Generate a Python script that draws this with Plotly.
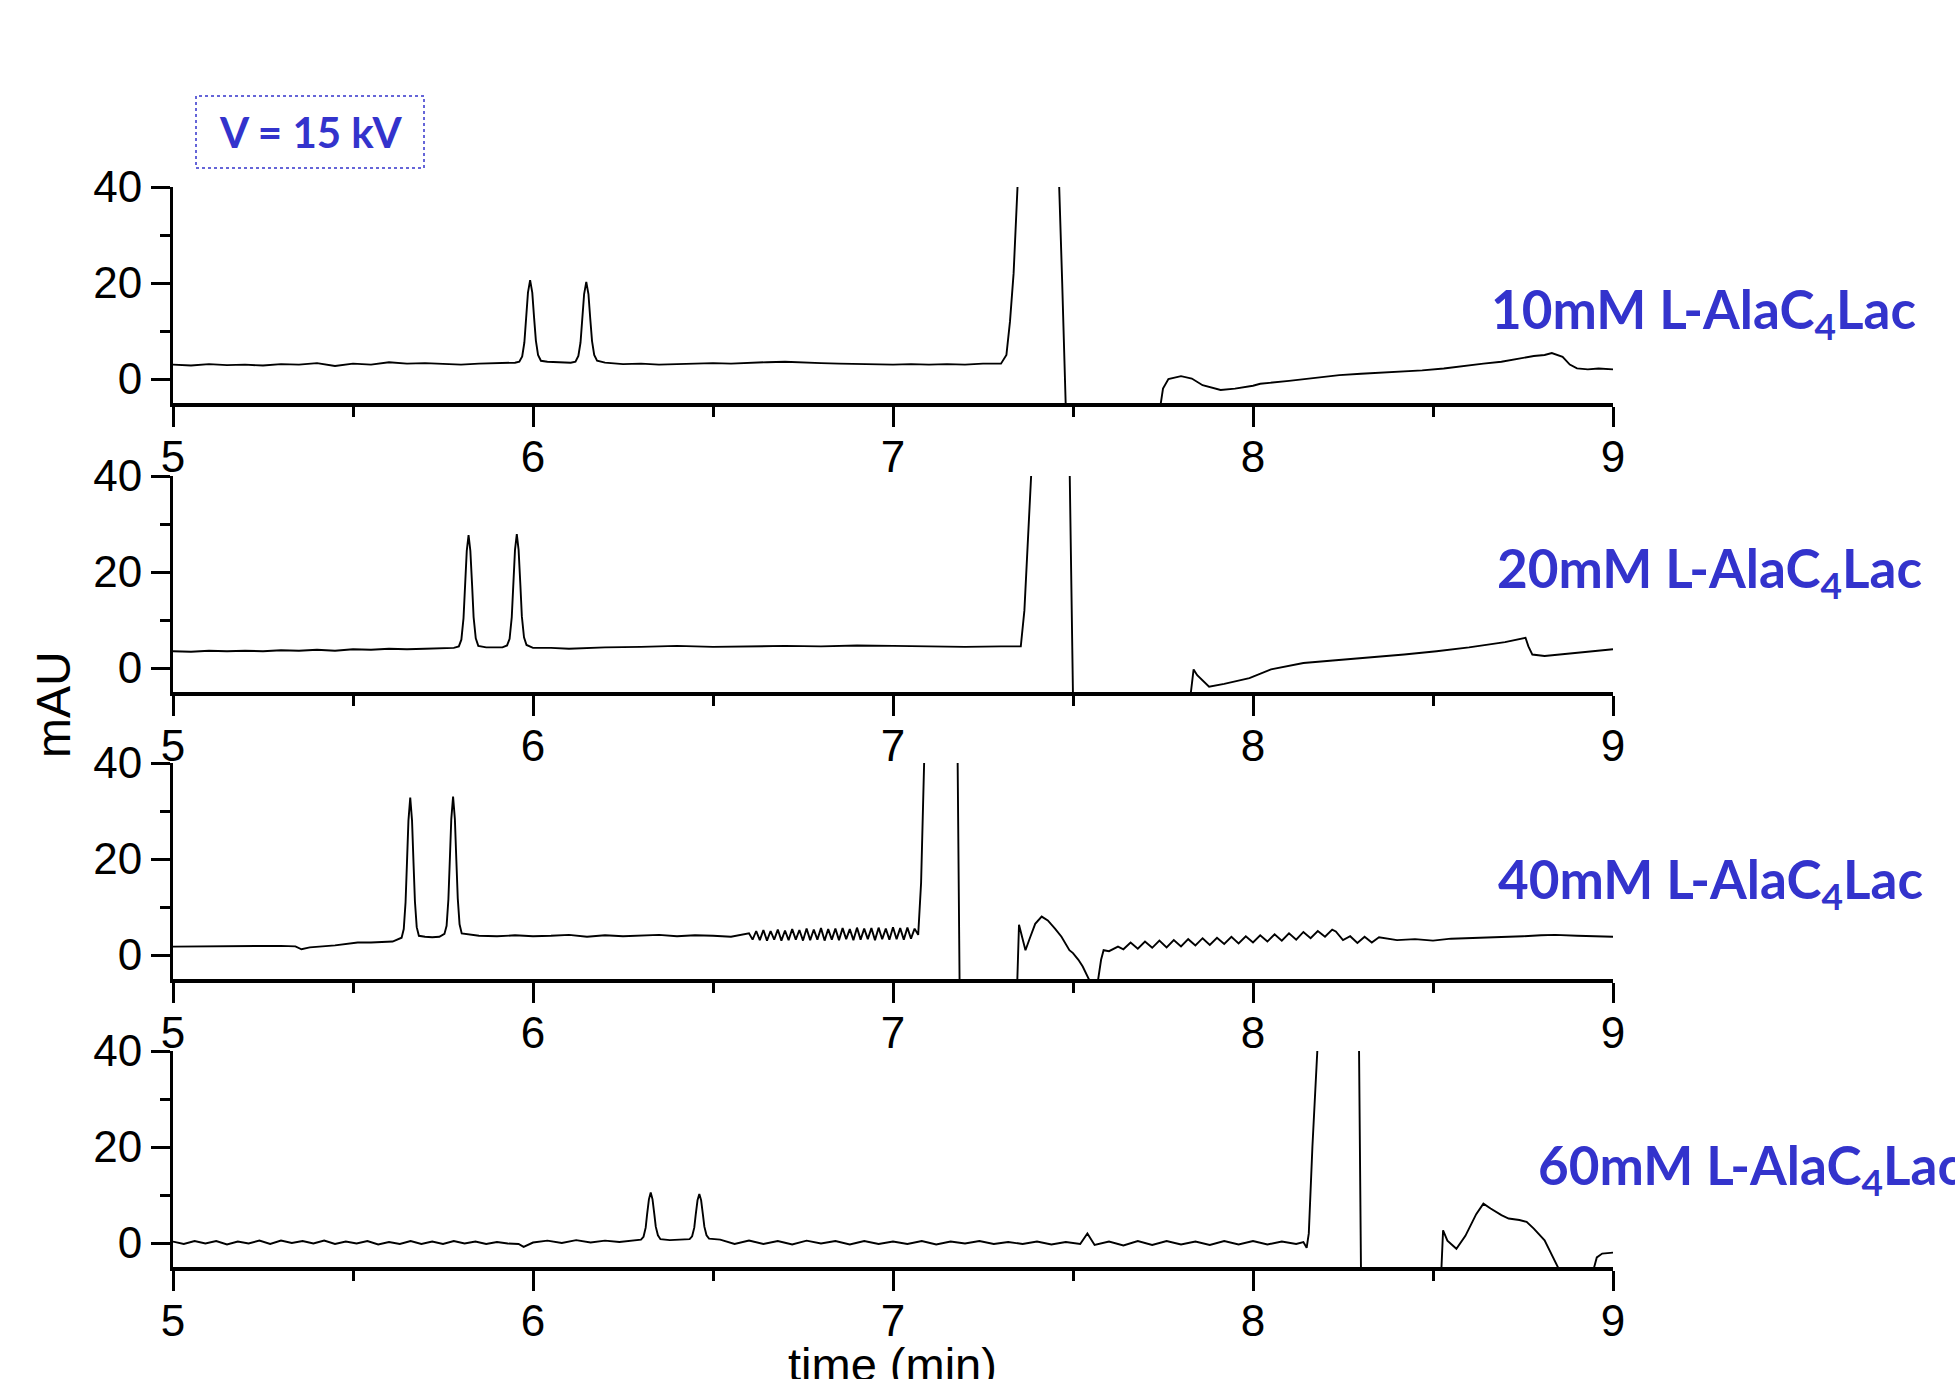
import plotly.graph_objects as go

# ---------------- data (time in min, absorbance in mAU) ----------------
labels = ["10mM L-AlaC<sub>4</sub>Lac", "20mM L-AlaC<sub>4</sub>Lac",
          "40mM L-AlaC<sub>4</sub>Lac", "60mM L-AlaC<sub>4</sub>Lac"]
x_ticks = [5, 6, 7, 8, 9]
y_ticks = [0, 20, 40]

t_10mM = [5.00, 5.05, 5.10, 5.15, 5.20, 5.25, 5.30, 5.35, 5.40, 5.45, 5.50, 5.55, 5.60, 5.65,
          5.70, 5.75, 5.80, 5.85, 5.90, 5.95,
          5.962, 5.970, 5.976, 5.981, 5.986, 5.992, 5.998, 6.003, 6.008, 6.014, 6.022,
          6.04, 6.08, 6.105,
          6.118, 6.126, 6.132, 6.137, 6.142, 6.148, 6.154, 6.159, 6.164, 6.170, 6.178,
          6.20, 6.25, 6.30, 6.35, 6.40, 6.45, 6.50, 6.55, 6.60, 6.65, 6.70, 6.75, 6.80, 6.85,
          6.90, 6.95, 7.00, 7.05, 7.10, 7.15, 7.20, 7.25, 7.30, 7.315, 7.325, 7.335, 7.345,
          7.355, 7.37, 7.44, 7.46, 7.47, 7.48, 7.50, 7.73, 7.742, 7.75, 7.765, 7.80, 7.83,
          7.86, 7.91, 7.95, 8.00, 8.02, 8.10, 8.17, 8.24, 8.30, 8.36, 8.42, 8.47, 8.53, 8.59,
          8.64, 8.69, 8.74, 8.78, 8.81, 8.83, 8.86, 8.88, 8.90, 8.93, 8.96, 9.00]
mau_10mM = [3.0, 2.8, 3.1, 2.9, 3.0, 2.8, 3.1, 3.0, 3.3, 2.7, 3.2, 3.0, 3.5, 3.2,
            3.3, 3.1, 3.0, 3.2, 3.3, 3.4,
            3.6, 4.7, 7.6, 12.8, 18.0, 20.6, 18.0, 12.8, 8.0, 5.0, 3.8,
            3.6, 3.5, 3.4,
            3.6, 4.8, 7.6, 12.6, 17.7, 20.2, 17.7, 12.6, 7.9, 5.0, 3.8,
            3.4, 3.1, 3.2, 3.0, 3.1, 3.2, 3.3, 3.2, 3.4, 3.5, 3.6, 3.4, 3.3, 3.2,
            3.1, 3.0, 3.0, 3.1, 3.0, 3.1, 3.0, 3.2, 3.2, 5.0, 12.0, 22.0, 33.0,
            44.0, 80.0, 80.0, 44.0, 20.0, -6.0, -20.0, -20.0, -6.0, -2.0, 0.0, 0.6, 0.1,
            -1.3, -2.3, -2.0, -1.4, -1.0, -0.4, 0.2, 0.8, 1.1, 1.3, 1.6, 1.8, 2.2, 2.8,
            3.2, 3.6, 4.2, 4.8, 5.0, 5.4, 4.6, 3.0, 2.2, 2.0, 2.2, 2.0]

t_20mM = [5.00, 5.05, 5.10, 5.15, 5.20, 5.25, 5.30, 5.35, 5.40, 5.45, 5.50, 5.55, 5.60, 5.65,
          5.70, 5.75, 5.78,
          5.794, 5.801, 5.807, 5.811, 5.816, 5.821, 5.826, 5.831, 5.835, 5.841, 5.848,
          5.87, 5.90, 5.915,
          5.928, 5.935, 5.941, 5.945, 5.950, 5.955, 5.960, 5.965, 5.969, 5.975, 5.982,
          6.00, 6.05, 6.10, 6.20, 6.30, 6.40, 6.50, 6.60, 6.70, 6.80, 6.90, 7.00, 7.10, 7.20,
          7.30, 7.355, 7.365, 7.375, 7.385, 7.40, 7.48, 7.49, 7.50, 7.52, 7.81, 7.826, 7.835,
          7.845, 7.878, 7.92, 7.99, 8.05, 8.14, 8.23, 8.33, 8.42, 8.51, 8.60, 8.70, 8.757,
          8.765, 8.776, 8.81, 8.90, 9.00]
mau_20mM = [3.5, 3.4, 3.6, 3.5, 3.6, 3.5, 3.7, 3.6, 3.8, 3.6, 3.9, 3.8, 4.0, 3.9,
            4.0, 4.1, 4.2,
            4.5, 5.9, 10.4, 17.0, 24.4, 27.7, 24.4, 17.0, 10.6, 6.2, 4.6,
            4.3, 4.2, 4.3,
            4.7, 6.1, 10.6, 17.2, 24.6, 27.9, 24.6, 17.2, 10.8, 6.4, 4.8,
            4.2, 4.2, 4.0, 4.3, 4.4, 4.6, 4.4, 4.5, 4.6, 4.5, 4.7, 4.6, 4.5, 4.4,
            4.5, 4.5, 12.0, 28.0, 42.0, 80.0, 80.0, 45.0, -6.0, -20.0, -20.0, -6.0, -0.3,
            -1.5, -3.9, -3.3, -2.1, -0.3, 1.05, 1.6, 2.2, 2.8, 3.5, 4.3, 5.4, 6.3,
            4.5, 2.8, 2.5, 3.2, 3.9]

t_40mM = [5.00, 5.05, 5.10, 5.15, 5.20, 5.25, 5.30, 5.34, 5.357, 5.38, 5.45, 5.513, 5.55, 5.61,
          5.635, 5.641, 5.646, 5.650, 5.654, 5.659, 5.664, 5.668, 5.672, 5.677, 5.683,
          5.70, 5.72, 5.74,
          5.754, 5.760, 5.765, 5.769, 5.773, 5.778, 5.783, 5.787, 5.791, 5.796, 5.802,
          5.85, 5.90, 5.95, 6.00, 6.05, 6.10, 6.15, 6.20, 6.25, 6.30, 6.35,
          6.40, 6.45, 6.50, 6.55, 6.60, 6.61, 6.62, 6.63, 6.64, 6.65, 6.66, 6.67, 6.68, 6.69,
          6.70, 6.71, 6.72, 6.73, 6.74, 6.75, 6.76, 6.77, 6.78, 6.79, 6.80, 6.81, 6.82, 6.83,
          6.84, 6.85, 6.86, 6.87, 6.88, 6.89, 6.90, 6.91, 6.92, 6.93, 6.94, 6.95, 6.96, 6.97,
          6.98, 6.99, 7.00, 7.01, 7.02, 7.03, 7.04, 7.05, 7.06, 7.07, 7.078, 7.088, 7.10,
          7.17, 7.179, 7.185, 7.20, 7.33, 7.345, 7.35, 7.368, 7.38, 7.395, 7.413, 7.43, 7.45,
          7.468, 7.49, 7.50, 7.515, 7.527, 7.547, 7.569, 7.578, 7.585, 7.60, 7.625, 7.64, 7.66,
          7.68, 7.70, 7.72, 7.74, 7.76, 7.78, 7.80, 7.82, 7.84, 7.86, 7.88, 7.90, 7.92, 7.94,
          7.96, 7.98, 8.00, 8.02, 8.04, 8.06, 8.08, 8.10, 8.12, 8.14, 8.16, 8.18, 8.20, 8.22,
          8.23, 8.25, 8.27, 8.29, 8.31, 8.33, 8.35, 8.40, 8.45, 8.50, 8.55, 8.60, 8.65, 8.70,
          8.75, 8.80, 8.84, 8.90, 8.95, 9.00]
mau_40mM = [1.75, 1.8, 1.7, 1.9, 1.8, 1.9, 1.9, 1.8, 1.2, 1.6, 2.0, 2.6, 2.6, 2.8,
            3.6, 5.4, 11.0, 19.4, 28.0, 32.8, 28.0, 19.4, 11.2, 5.8, 4.0,
            3.8, 3.7, 3.8,
            4.4, 6.1, 11.6, 19.9, 28.3, 33.0, 28.3, 19.9, 11.8, 6.4, 4.5,
            4.0, 3.9, 4.1, 3.9, 4.0, 4.2, 3.8, 4.1, 3.9, 4.0, 4.2,
            3.9, 4.1, 4.0, 3.8, 4.5, 3.2, 5.0, 3.1, 5.2, 3.0, 5.0, 3.2, 5.3, 3.0,
            5.1, 3.1, 5.4, 3.2, 5.2, 3.0, 5.5, 3.1, 5.3, 3.2, 5.6, 3.0, 5.4, 3.2,
            5.5, 3.1, 5.6, 3.3, 5.4, 3.1, 5.7, 3.2, 5.5, 3.3, 5.6, 3.1, 5.7, 3.3,
            5.5, 3.2, 5.8, 3.3, 5.6, 3.2, 5.7, 3.4, 5.5, 4.2, 15.0, 42.0, 80.0,
            80.0, 45.0, -6.0, -20.0, -20.0, -6.0, 6.3, 1.0, 3.5, 6.5, 8.0, 7.2, 5.5,
            3.8, 1.0, 0.4, -1.0, -2.4, -5.5, -5.5, -1.0, 1.0, 0.8, 1.75, 1.2, 2.6,
            1.3, 2.8, 1.5, 3.0, 1.6, 3.1, 1.8, 3.3, 2.0, 3.5, 2.1, 3.6, 2.3, 3.8,
            2.4, 3.9, 2.6, 4.1, 2.8, 4.3, 3.0, 4.5, 3.2, 4.8, 3.5, 5.0, 3.8, 5.3,
            4.9, 3.1, 3.9, 2.5, 3.8, 2.6, 3.7, 3.1, 3.3, 3.0, 3.4, 3.5, 3.6, 3.8,
            3.9, 4.1, 4.2, 4.0, 3.9, 3.8]

t_60mM = [5.00, 5.03, 5.06, 5.09, 5.12, 5.15, 5.18, 5.21, 5.24, 5.27, 5.30, 5.33, 5.36, 5.39,
          5.42, 5.45, 5.48, 5.51, 5.54, 5.57, 5.60, 5.63, 5.66, 5.69, 5.72, 5.75, 5.78, 5.81,
          5.84, 5.87, 5.90, 5.93, 5.96, 5.974, 6.00, 6.04, 6.08, 6.12, 6.16, 6.20, 6.24, 6.28,
          6.300, 6.307, 6.313, 6.317, 6.322, 6.327, 6.332, 6.337, 6.341, 6.347, 6.354,
          6.38, 6.41,
          6.435, 6.442, 6.448, 6.452, 6.457, 6.462, 6.467, 6.472, 6.476, 6.482, 6.489,
          6.52, 6.56, 6.60, 6.64, 6.68, 6.72, 6.76, 6.80, 6.84, 6.88, 6.92,
          6.96, 7.00, 7.04, 7.08, 7.12, 7.16, 7.20, 7.24, 7.28, 7.32, 7.36, 7.40, 7.44, 7.48,
          7.52, 7.54, 7.56, 7.60, 7.64, 7.68, 7.72, 7.76, 7.80, 7.84, 7.88, 7.92, 7.96, 8.00,
          8.04, 8.08, 8.12, 8.14, 8.149, 8.155, 8.165, 8.18, 8.20, 8.28, 8.294, 8.30, 8.32,
          8.51, 8.523, 8.528, 8.54, 8.565, 8.59, 8.62, 8.64, 8.66, 8.69, 8.71, 8.74, 8.76, 8.78,
          8.81, 8.85, 8.87, 8.93, 8.946, 8.955, 8.97, 9.00]
mau_60mM = [0.3, -0.2, 0.4, -0.1, 0.4, -0.3, 0.3, -0.1, 0.5, -0.2, 0.5, 0.0, 0.4, -0.1,
            0.5, -0.2, 0.3, -0.1, 0.4, -0.3, 0.2, -0.2, 0.4, -0.2, 0.3, -0.2, 0.4, -0.1,
            0.3, -0.2, 0.2, -0.1, -0.2, -0.8, 0.1, 0.5, 0.0, 0.6, 0.1, 0.5, 0.2, 0.5,
            0.7, 1.3, 3.2, 6.0, 9.1, 10.5, 9.1, 6.0, 3.4, 1.6, 0.8,
            0.6, 0.7,
            0.8, 1.4, 3.2, 5.9, 8.9, 10.2, 8.9, 5.9, 3.4, 1.6, 0.9,
            0.7, -0.2, 0.5, -0.2, 0.4, -0.3, 0.5, -0.1, 0.4, -0.3, 0.4,
            -0.2, 0.3, -0.2, 0.4, -0.3, 0.3, -0.1, 0.4, -0.2, 0.2, -0.2, 0.3, -0.3, 0.2,
            -0.2, 2.0, -0.4, 0.3, -0.5, 0.4, -0.4, 0.4, -0.3, 0.3, -0.4, 0.4, -0.3, 0.4,
            -0.3, 0.3, -0.2, 0.2, -1.0, 2.0, 20.0, 42.0, 80.0, 80.0, 45.0, -6.0, -20.0,
            -20.0, -6.0, 2.65, 0.5, -1.2, 1.5, 6.0, 8.2, 7.2, 5.8, 5.1, 4.8, 4.4, 3.0,
            0.56, -5.5, -20.0, -20.0, -5.5, -3.0, -2.2, -2.0]

series_t = [t_10mM, t_20mM, t_40mM, t_60mM]
series_v = [mau_10mM, mau_20mM, mau_40mM, mau_60mM]

# ---------------- layout ----------------
W, H = 1955, 1379
BLUE = "#3333CC"


def px_x(X):
    return X / W


def px_y(Y):
    return 1 - Y / H


x_dom = [px_x(173), px_x(1613)]
panels_px = [(187, 403), (476, 692), (763, 979), (1051, 1267)]  # top, bottom in page px
label_pos = [(1918, 312, "right"), (1924, 571, "right"), (1925, 882, "right"), (1536, 1168, "left")]

fig = go.Figure()
layout = dict(width=W, height=H, margin=dict(l=0, r=0, t=0, b=0, pad=0, autoexpand=False),
              paper_bgcolor="white", plot_bgcolor="white", showlegend=False)

tick_font = dict(family="Liberation Sans, Arial", size=44, color="black")

for i in range(4):
    n = i + 1
    xs = "x" if n == 1 else f"x{n}"
    ys = "y" if n == 1 else f"y{n}"
    fig.add_trace(go.Scatter(x=series_t[i], y=series_v[i], mode="lines",
                             line=dict(color="black", width=1.9),
                             xaxis=xs, yaxis=ys, hoverinfo="skip"))
    top, bot = panels_px[i]
    layout[f"xaxis{'' if n == 1 else n}"] = dict(
        domain=x_dom, range=[5, 9], anchor=ys, showline=True, linewidth=4, linecolor="black",
        ticks="outside", ticklen=20, tickwidth=3, tickcolor="black", automargin=False,
        tickvals=x_ticks, ticktext=[str(v) for v in x_ticks], ticklabelstandoff=-8,
        minor=dict(tickvals=[5.5, 6.5, 7.5, 8.5], ticks="outside", ticklen=10, tickwidth=3, tickcolor="black"),
        showgrid=False, zeroline=False, tickfont=tick_font, fixedrange=True)
    layout[f"yaxis{'' if n == 1 else n}"] = dict(
        domain=[px_y(bot), px_y(top)], range=[-5, 40], anchor=xs, automargin=False,
        showline=True, linewidth=3, linecolor="black",
        ticks="outside", ticklen=19, tickwidth=3, tickcolor="black",
        tickvals=y_ticks, ticktext=[str(v) for v in y_ticks],
        minor=dict(tickvals=[10, 30], ticks="outside", ticklen=10, tickwidth=3, tickcolor="black"),
        showgrid=False, zeroline=False, tickfont=tick_font, fixedrange=True)

annotations = []
for (px, py, anc), txt in zip(label_pos, labels):
    annotations.append(dict(text=f"<b>{txt}</b>", xref="paper", yref="paper",
                            x=px_x(px), y=px_y(py), xanchor=anc, yanchor="middle",
                            showarrow=False,
                            font=dict(family="Lato, Open Sans, sans-serif", size=53, color=BLUE)))
annotations.append(dict(text="<b>V = 15 kV</b>", xref="paper", yref="paper",
                        x=px_x(310), y=px_y(132), xanchor="center", yanchor="middle",
                        showarrow=False,
                        font=dict(family="Lato, Open Sans, sans-serif", size=42, color=BLUE)))
annotations.append(dict(text="mAU", xref="paper", yref="paper", x=px_x(53), y=px_y(705),
                        xanchor="center", yanchor="middle", textangle=-90, showarrow=False,
                        font=dict(family="Liberation Sans, Arial", size=48, color="black")))
annotations.append(dict(text="time (min)", xref="paper", yref="paper", x=px_x(892), y=px_y(1336),
                        xanchor="center", yanchor="top", showarrow=False,
                        font=dict(family="Liberation Sans, Arial", size=47, color="black")))
layout["annotations"] = annotations
layout["shapes"] = [dict(type="rect", xref="paper", yref="paper",
                         x0=px_x(196), x1=px_x(424), y0=px_y(168), y1=px_y(96),
                         line=dict(color=BLUE, width=1.5, dash="dot"), fillcolor="rgba(0,0,0,0)")]

fig.update_layout(**layout)
fig.write_html("out.html")
